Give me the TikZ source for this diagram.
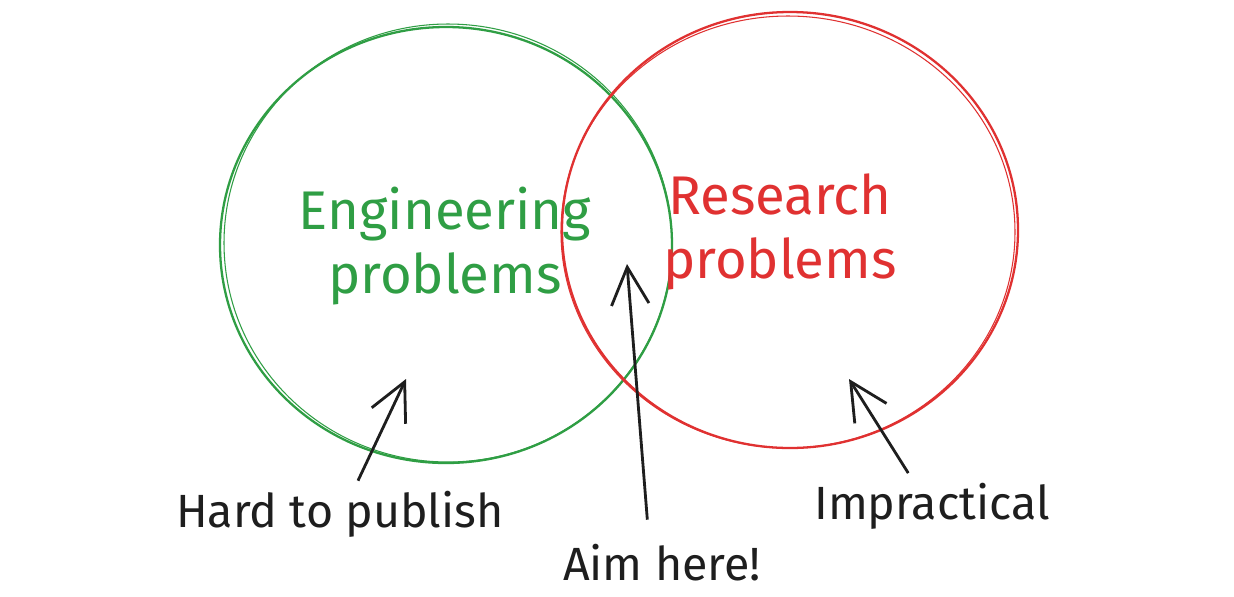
\documentclass[tikz,border=0pt]{standalone}
\usepackage{fontspec}
\setmainfont{Fira Sans}
\usetikzlibrary{arrows.meta}

\definecolor{exgreen}{HTML}{2F9E44}
\definecolor{exred}{HTML}{E03131}
\definecolor{exblack}{HTML}{1E1E1E}

\begin{document}
\begin{tikzpicture}[x=0.02cm, y=-0.02cm,
  ring/.style={line width=1.3pt},
  title node/.style={align=center, font=\fontsize{31}{36}\selectfont},
  note node/.style={text=exblack, inner sep=2pt, font=\fontsize{26.5}{30}\selectfont},
  pointer/.style={exblack, line width=1.6pt, -{Straight Barb[length=0.75cm, width=0.75cm, line width=1.6pt]}}]
  \useasboundingbox[fill=white] (0,0) rectangle (1234,596);

  % the two sets
  \draw[ring, exgreen] (446,245) ellipse [x radius=226, y radius=218];
  \draw[exgreen, line width=0.6pt] (448,243) ellipse [x radius=224, y radius=219];
  \draw[ring, exred] (790,230) ellipse [x radius=228, y radius=218];
  \draw[exred, line width=0.6pt] (788,232) ellipse [x radius=227, y radius=216];

  \node[title node, text=exgreen] (eng) at (445,246) {Engineering\\problems};
  \node[title node, text=exred] (res) at (780,232) {Research\\problems};

  % labels and their arrows
  \node[note node] (hard) at (340,514) {Hard to publish};
  \node[note node] (aim) at (662,563) {Aim here!};
  \node[note node] (impr) at (932,506) {Impractical};

  \coordinate (tipA) at (406,379);
  \coordinate (tipB) at (627,264);
  \coordinate (tipC) at (849,379);

  \draw[pointer, shorten <=4pt] ([xshift=0.3cm]hard.north) -- (tipA);
  \draw[pointer, shorten <=12pt] ([xshift=-0.26cm]aim.north) -- (tipB);
  \draw[pointer, shorten <=4pt] ([xshift=-0.4cm]impr.north) -- (tipC);
\end{tikzpicture}
\end{document}
